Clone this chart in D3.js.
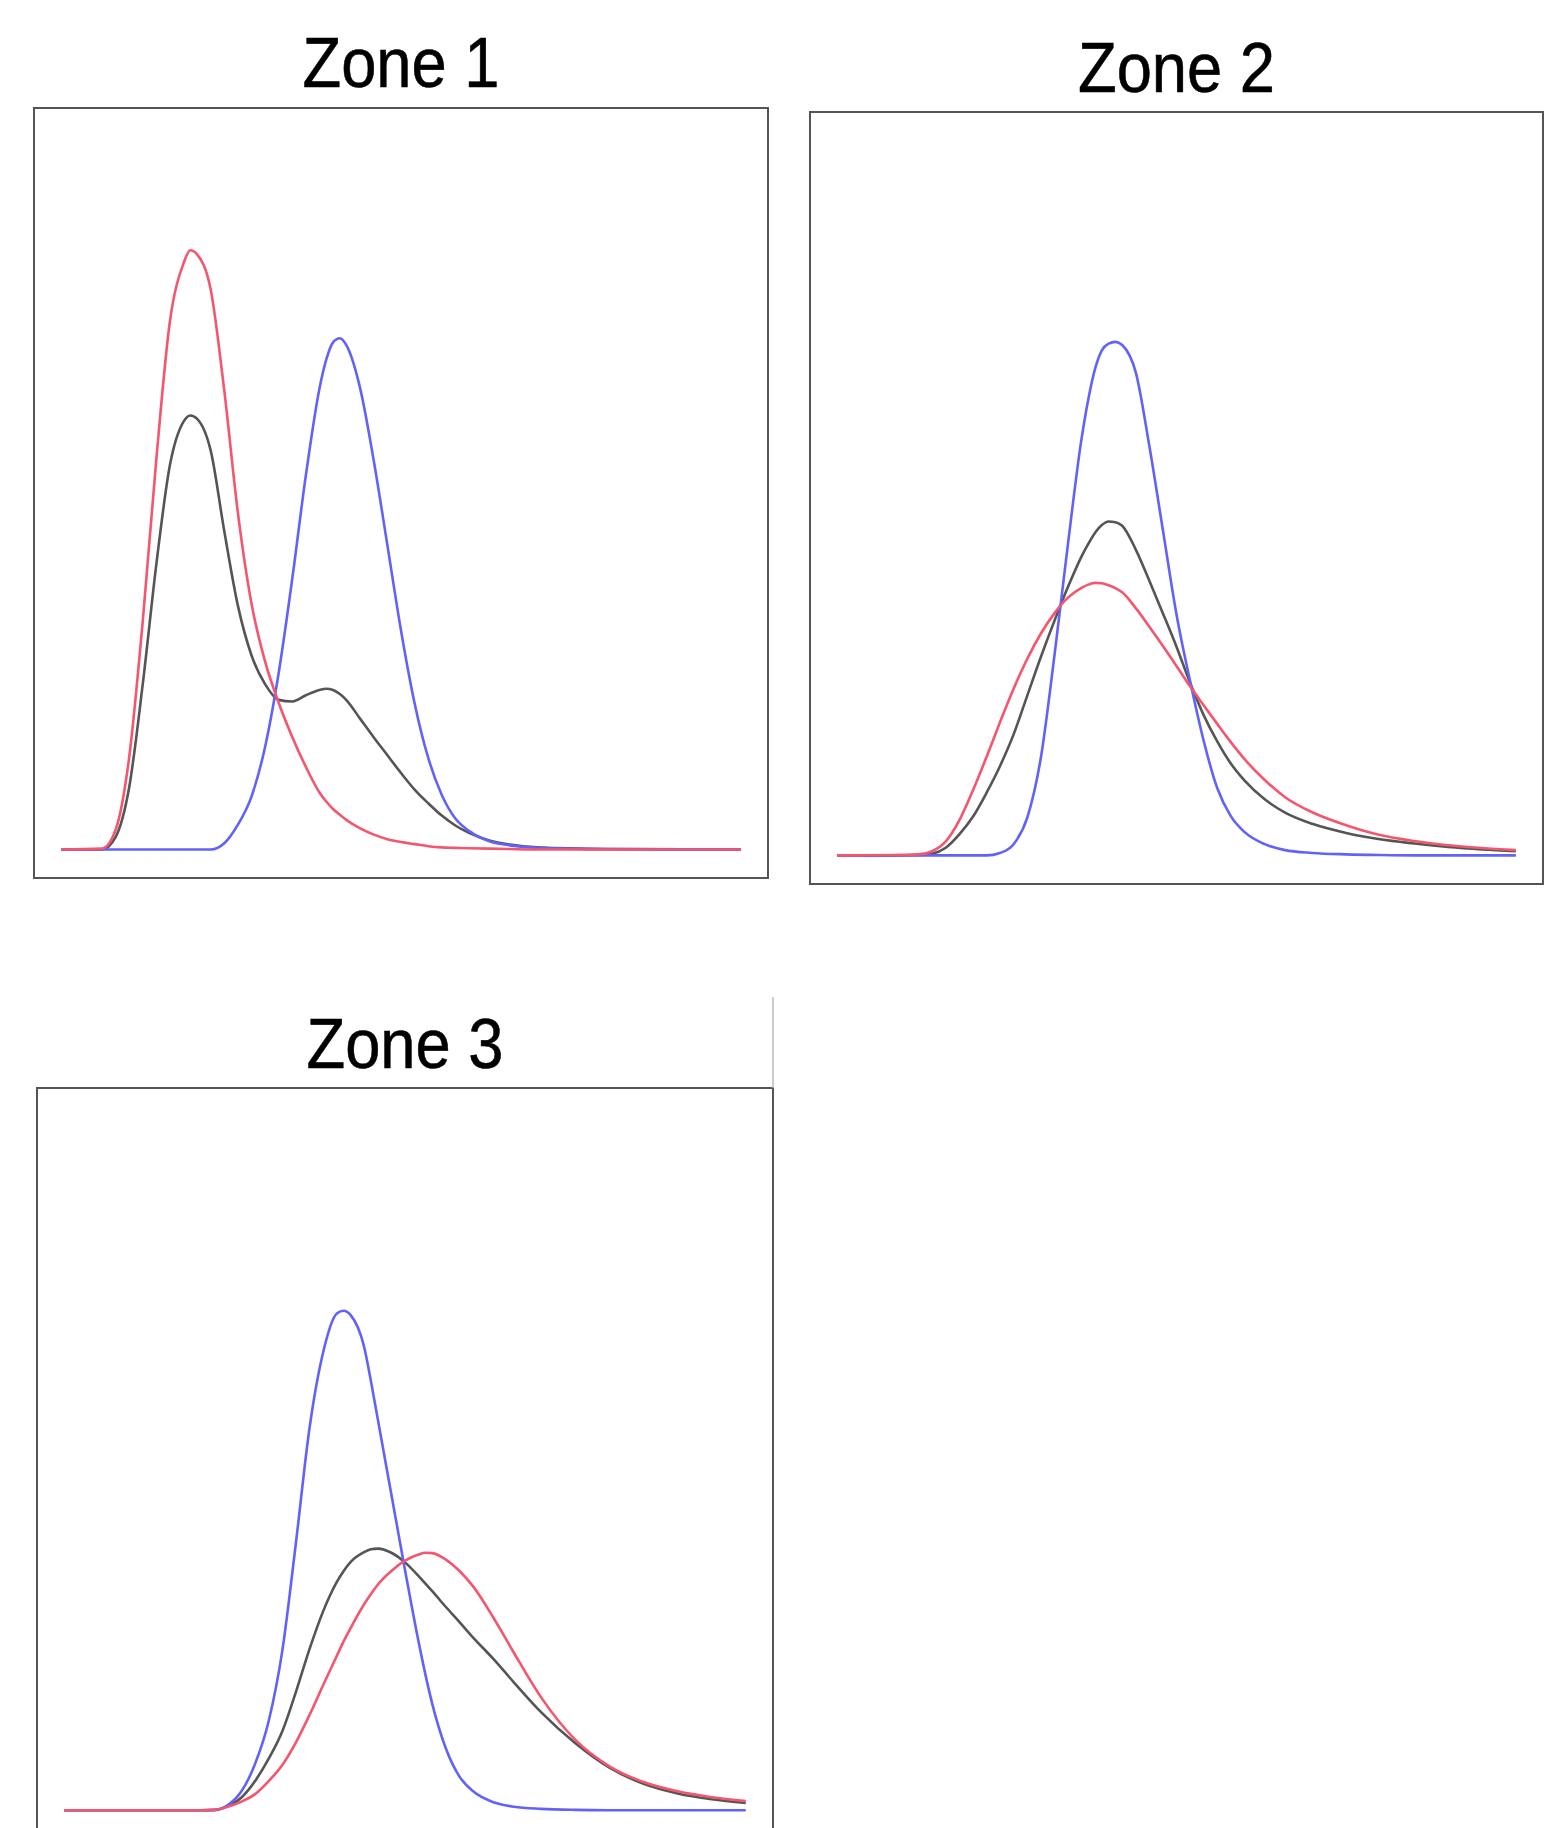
<!DOCTYPE html>
<html lang="en">
<head>
  <meta charset="UTF-8">
  <title>Zones</title>
  <script src="https://cdn.jsdelivr.net/npm/d3@7"></script>
  <style>
    body { margin: 0; background: #fff; }
    svg { display: block; }
  </style>
</head>
<body>
<script>
  const svgWidth = 1553
  const svgHeight = 1828

  const zoneNames = ['Zone 1', 'Zone 2', 'Zone 3']
  const seriesNames = ['black', 'blue', 'red']

  // zone 1 — x positions and curve heights
  const x1 = [0, 6, 8, 10, 12, 14, 16, 18, 19, 20, 22, 24, 26, 28, 30, 32, 34, 36, 38, 39, 40, 41, 42, 44, 46, 48, 50, 52, 54, 56, 58, 60, 63, 66, 70, 80, 100]
  const red1 = [0, 2, 47, 222, 552, 944, 1278, 1418, 1450, 1440, 1355, 1110, 815, 595, 455, 355, 272, 200, 138, 116, 98, 84, 71, 51, 36, 25, 18, 13, 8, 5, 4, 3, 2, 1, 0, 0, 0]
  const blue1 = [0, 0, 0, 0, 0, 0, 0, 0, 0, 0, 0, 15, 60, 128, 248, 427, 655, 905, 1115, 1185, 1227, 1237, 1219, 1115, 940, 736, 530, 354, 222, 132, 75, 45, 20, 10, 4, 1, 0]
  const black1 = [0, 0, 30, 150, 400, 690, 930, 1035, 1050, 1042, 965, 770, 590, 470, 400, 362, 358, 373, 386, 389, 386, 376, 361, 316, 271, 228, 185, 145, 112, 82, 58, 40, 22, 12, 5, 1, 0]

  // zone 2
  const x2 = [0, 8, 12, 14, 16, 18, 20, 22, 24, 26, 28, 30, 32, 34, 36, 37, 38, 39, 40, 41, 42, 44, 46, 48, 50, 52, 54, 56, 58, 60, 63, 66, 70, 75, 80, 85, 90, 95, 100]
  const red2 = [0, 1, 3, 12, 40, 100, 185, 280, 380, 475, 560, 632, 690, 735, 763, 772, 777, 776, 770, 762, 750, 705, 652, 597, 540, 482, 428, 375, 323, 275, 215, 166, 123, 86, 58, 41, 29, 21, 15]
  const blue2 = [0, 0, 0, 0, 0, 0, 0, 0, 7, 32, 107, 277, 567, 887, 1187, 1300, 1387, 1440, 1459, 1464, 1455, 1377, 1167, 927, 687, 497, 327, 192, 112, 67, 32, 15, 7, 3, 1, 0, 0, 0, 0]
  const black2 = [0, 0, 1, 5, 22, 60, 110, 178, 255, 345, 455, 565, 668, 765, 852, 888, 920, 942, 952, 950, 940, 872, 783, 690, 595, 492, 400, 325, 262, 214, 160, 122, 90, 64, 46, 34, 24, 17, 12]

  // zone 3
  const x3 = [0, 10, 20, 22, 24, 26, 28, 30, 32, 34, 36, 38, 40, 41, 42, 44, 45, 46, 48, 50, 52, 53, 54, 56, 58, 60, 63, 66, 70, 75, 80, 85, 90, 95, 100]
  const red3 = [0, 0, 0, 1, 10, 25, 47, 85, 132, 198, 278, 365, 450, 492, 530, 600, 630, 657, 697, 727, 745, 750, 749, 730, 697, 652, 560, 458, 328, 205, 128, 82, 55, 38, 27]
  const blue3 = [0, 0, 0, 0, 15, 55, 135, 260, 465, 780, 1115, 1335, 1447, 1455, 1443, 1350, 1250, 1140, 920, 700, 490, 395, 310, 180, 98, 55, 23, 10, 4, 1, 0, 0, 0, 0, 0]
  const black3 = [0, 0, 0, 1, 12, 37, 85, 150, 230, 345, 470, 580, 665, 697, 723, 752, 760, 762, 750, 722, 682, 660, 638, 592, 548, 503, 440, 372, 285, 195, 124, 77, 49, 32, 21]

  const colors = { black: '#555555', blue: '#6262f8', red: '#f4566e' }

  // panel boxes (R-style frames) and their y limits
  const panels = [
    { title: zoneNames[0], left: 34, top: 108, width: 734, height: 770, titleY: 87, ymax: 1725,
      x: x1, data: { black: black1, blue: blue1, red: red1 } },
    { title: zoneNames[1], left: 810, top: 112, width: 733, height: 772, titleY: 92, ymax: 2038,
      x: x2, data: { black: black2, blue: blue2, red: red2 } },
    { title: zoneNames[2], left: 37, top: 1088, width: 736, height: 750, titleY: 1068, ymax: 2023,
      x: x3, data: { black: black3, blue: blue3, red: red3 } }
  ]

  const svg = d3.select('body')
    .append('svg')
    .attr('width', svgWidth)
    .attr('height', svgHeight)

  svg.append('rect')
    .attr('width', svgWidth)
    .attr('height', svgHeight)
    .attr('fill', '#fff')

  panels.forEach(p => {
    // 4% padding on each side, like R's default axis expansion
    const padX = p.width * 0.04 / 1.08
    const padY = p.height * 0.04 / 1.08
    const xScale = d3.scaleLinear()
      .domain([0, 100])
      .range([p.left + padX, p.left + p.width - padX])
    const yScale = d3.scaleLinear()
      .domain([0, p.ymax])
      .range([p.top + p.height - padY, p.top + padY])

    const g = svg.append('g')

    g.append('text')
      .attr('x', p.left + p.width / 2)
      .attr('y', p.titleY)
      .attr('text-anchor', 'middle')
      .attr('font-family', 'Liberation Sans, Arial, sans-serif')
      .attr('font-size', 71)
      .attr('textLength', 197)
      .attr('lengthAdjust', 'spacingAndGlyphs')
      .attr('fill', '#000')
      .attr('stroke', '#000')
      .attr('stroke-width', 0.6)
      .text(p.title)

    const line = d3.line()
      .x(d => xScale(d[0]))
      .y(d => yScale(d[1]))
      .curve(d3.curveMonotoneX)

    seriesNames.forEach(name => {
      const pts = p.x.map((v, i) => [v, p.data[name][i]])
      g.append('path')
        .attr('d', line(pts))
        .attr('fill', 'none')
        .attr('stroke', colors[name])
        .attr('stroke-width', 2.6)
        .attr('stroke-linejoin', 'round')
    })

    g.append('rect')
      .attr('x', p.left)
      .attr('y', p.top)
      .attr('width', p.width)
      .attr('height', p.height)
      .attr('fill', 'none')
      .attr('stroke', '#555')
      .attr('stroke-width', 2)
  })

  // thin edge line above the third panel, as in the source image
  svg.append('line')
    .attr('x1', 773).attr('x2', 773)
    .attr('y1', 997).attr('y2', 1088)
    .attr('stroke', '#bbb')
    .attr('stroke-width', 1.5)
</script>
</body>
</html>
